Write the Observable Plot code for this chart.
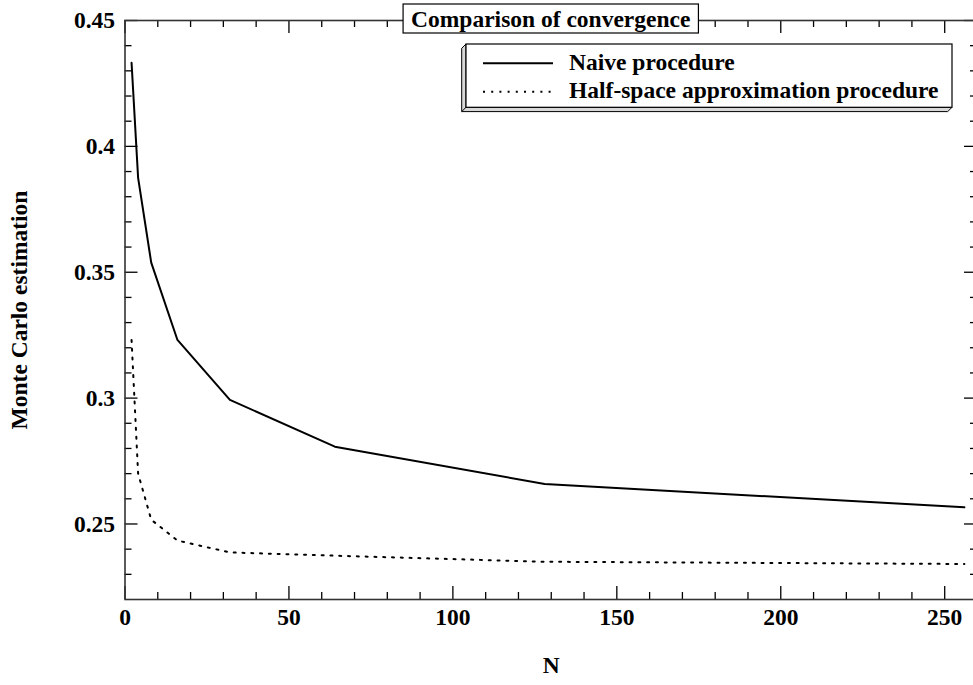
<!DOCTYPE html>
<html>
<head>
<meta charset="utf-8">
<script src="https://cdn.jsdelivr.net/npm/d3@7"></script>
<script src="https://cdn.jsdelivr.net/npm/@observablehq/plot@0.6"></script>
<style>
  html, body { margin: 0; padding: 0; background: white; }
  #chart { width: 973px; height: 685px; }
</style>
</head>
<body>
<div id="chart"></div>
<script>
// ---- data ----
const N = [2, 4, 8, 16, 32, 64, 128, 256];
const naive = [0.4332, 0.3875, 0.3538, 0.3231, 0.2993, 0.2807, 0.2659, 0.2566];
const halfSpace = [0.3231, 0.2700, 0.2517, 0.2434, 0.2387, 0.2374, 0.2350, 0.2341];

const seriesNames = ["Naive procedure", "Half-space approximation procedure"];
const titleText = "Comparison of convergence";
const xLabel = "N";
const yLabel = "Monte Carlo estimation";

const xMajor = [0, 50, 100, 150, 200, 250];
const xMinor = d3.range(10, 260, 10).filter(v => v % 50 !== 0);
const yMajor = [0.25, 0.3, 0.35, 0.4, 0.45];
const yMinor = [0.23, 0.24, 0.26, 0.27, 0.28, 0.29, 0.31, 0.32, 0.33, 0.34, 0.36, 0.37, 0.38, 0.39, 0.41, 0.42, 0.43, 0.44];

// ---- layout ----
const W = 973, H = 685;
const mL = 124.5, mR = -4, mT = 20, mB = 86;
const frameW = W - mL - mR, frameH = H - mT - mB;
const majorLen = 13, minorLen = 7;
const FONT = "'Liberation Serif', 'Times New Roman', serif";
const FS = 23.5;

const naiveData = N.map((n, i) => ({n, v: naive[i]}));
const halfData = N.map((n, i) => ({n, v: halfSpace[i]}));

const tickStyle = {stroke: "black", strokeWidth: 1.3};

const chart = Plot.plot({
  width: W, height: H,
  marginLeft: mL, marginRight: mR, marginTop: mT, marginBottom: mB,
  x: {domain: [0, 260]},
  y: {domain: [0.22, 0.45]},
  style: {fontFamily: FONT, fontWeight: "bold", fontSize: FS + "px", color: "black", background: "white", overflow: "hidden"},
  marks: [
    // inward ticks: bottom
    Plot.tickX(xMajor, {x: d => d, insetTop: frameH - majorLen, ...tickStyle}),
    Plot.tickX(xMinor, {x: d => d, insetTop: frameH - minorLen, ...tickStyle}),
    // top
    Plot.tickX(xMajor, {x: d => d, insetBottom: frameH - majorLen, ...tickStyle}),
    Plot.tickX(xMinor, {x: d => d, insetBottom: frameH - minorLen, ...tickStyle}),
    // left
    Plot.tickY(yMajor, {y: d => d, insetRight: frameW - majorLen, ...tickStyle}),
    Plot.tickY(yMinor, {y: d => d, insetRight: frameW - minorLen, ...tickStyle}),
    // right
    Plot.tickY(yMajor, {y: d => d, insetLeft: frameW - majorLen, ...tickStyle}),
    Plot.tickY(yMinor, {y: d => d, insetLeft: frameW - minorLen, ...tickStyle}),
    Plot.frame({stroke: "#333", strokeWidth: 1.6}),
    Plot.axisX({ticks: xMajor, tickSize: 0, tickPadding: 9, label: null, fontSize: FS, fontWeight: "bold", tickFormat: d => String(d)}),
    Plot.axisY({ticks: yMajor, tickSize: 0, tickPadding: 10, label: null, fontSize: FS, fontWeight: "bold", tickFormat: d => String(d)}),
    Plot.line(naiveData, {x: "n", y: "v", stroke: "black", strokeWidth: 2}),
    Plot.line(halfData, {x: "n", y: "v", stroke: "black", strokeWidth: 2, strokeDasharray: "2,6.8"}),
    Plot.text([xLabel], {text: d => d, frameAnchor: "bottom", dy: 73, fontSize: FS, fontWeight: "bold", textAnchor: "middle"}),
    Plot.text([yLabel], {text: d => d, frameAnchor: "left", dx: -106, rotate: -90, fontSize: FS, fontWeight: "bold", textAnchor: "middle"})
  ]
});
document.getElementById("chart").appendChild(chart);

// ---- title box & legend (decorations drawn into the same SVG) ----
const svg = d3.select(chart);
const cx = mL + frameW / 2;

const tg = svg.append("g");
const tRect = tg.append("rect").attr("fill", "white").attr("stroke", "black").attr("stroke-width", 1.2);
const tText = tg.append("text")
  .attr("x", cx).attr("y", 27).attr("text-anchor", "middle")
  .attr("font-family", FONT).attr("font-weight", "bold").attr("font-size", FS)
  .attr("fill", "black").text(titleText);
const tb = tText.node().getBBox();
tRect.attr("x", tb.x - 8).attr("y", 4).attr("width", tb.width + 16).attr("height", 29);

// legend with bevelled box
const lg = svg.append("g");
const L = {x0: 466, y0: 44, x1: 952, y1: 107.3, d: 4.3};
lg.append("polygon")
  .attr("points", [[L.x0, L.y0], [L.x0 - L.d, L.y0 + L.d], [L.x0 - L.d, L.y1 + L.d], [L.x1 - L.d, L.y1 + L.d], [L.x1, L.y1], [L.x0, L.y1]].map(p => p.join(",")).join(" "))
  .attr("fill", "#d8d8d8").attr("stroke", "black").attr("stroke-width", 1);
lg.append("line").attr("x1", L.x0).attr("y1", L.y1).attr("x2", L.x0 - L.d).attr("y2", L.y1 + L.d)
  .attr("stroke", "black").attr("stroke-width", 1);
lg.append("rect").attr("x", L.x0).attr("y", L.y0).attr("width", L.x1 - L.x0).attr("height", L.y1 - L.y0)
  .attr("fill", "white").attr("stroke", "black").attr("stroke-width", 1.2);

const entries = [
  {name: seriesNames[0], dash: null, y: 63.3},
  {name: seriesNames[1], dash: "2,6.2", y: 91.7}
];
entries.forEach(e => {
  const ln = lg.append("line").attr("x1", 483).attr("x2", 553).attr("y1", e.y).attr("y2", e.y)
    .attr("stroke", "black").attr("stroke-width", 2);
  if (e.dash) ln.attr("stroke-dasharray", e.dash);
  lg.append("text").attr("x", 569).attr("y", e.y + 6.5).attr("text-anchor", "start")
    .attr("font-family", FONT).attr("font-weight", "bold").attr("font-size", FS)
    .attr("fill", "black").text(e.name);
});
</script>
</body>
</html>
